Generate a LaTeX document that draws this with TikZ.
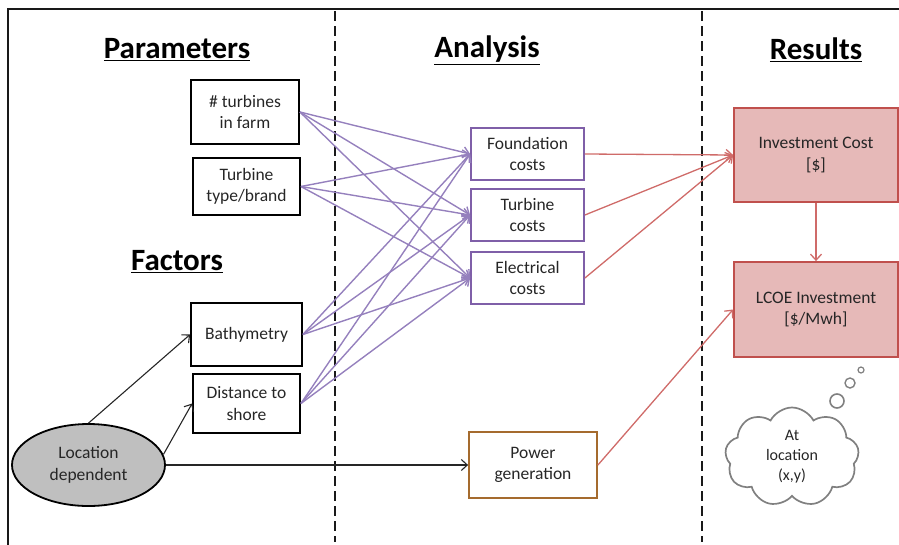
\documentclass[tikz,border=0pt]{standalone}
\usepackage{fontspec}
\setmainfont{Carlito}
\usetikzlibrary{arrows.meta,shapes.geometric,shapes.symbols}
\definecolor{purp}{HTML}{7F5FA8}
\definecolor{purpline}{HTML}{9580BD}
\definecolor{redb}{HTML}{C0504D}
\definecolor{redfill}{HTML}{E6B9B8}
\definecolor{redline}{HTML}{CF6B69}
\definecolor{brownb}{HTML}{A56B2E}
\definecolor{cloudgray}{HTML}{808080}
\definecolor{txt}{HTML}{262626}
\newcommand{\ulx}[1]{\underline{#1}}
\begin{document}
\begin{tikzpicture}[x=1pt,y=-1pt,
  every node/.style={text=txt,font=\fontsize{17.5}{21.5}\selectfont,align=center,inner sep=0pt},
  title/.style={font=\fontsize{31}{36}\selectfont\bfseries,text=black},
  blackbox/.style={draw=black,line width=1.8pt},
  purpbox/.style={draw=purp,line width=1.8pt},
  redbox/.style={draw=redb,fill=redfill,line width=1.8pt},
  brownbox/.style={draw=brownb,line width=1.8pt},
  purparrow/.style={draw=purpline,line width=1.4pt,-{Straight Barb[length=6pt,width=11pt]}},
  redarrow/.style={draw=redline,line width=1.3pt,-{Straight Barb[length=6pt,width=11pt]}},
  blackarrow/.style={draw=black!85,line width=1.1pt,-{Straight Barb[length=6pt,width=11pt]}},
  divider/.style={draw=black!90,line width=2.4pt,dash pattern=on 10pt off 5pt}
]
\useasboundingbox (0,0) rectangle (899,544);
% frame
\draw[line width=2pt,black!90] (8,560) -- (8,9) -- (910,9);
% dividers
\draw[divider] (335,11) -- (335,542);
\draw[divider] (702,11) -- (702,542);
% titles
\node[title] (tpar) at (177,50) {\ulx{Parameters}};
\node[title] (tana) at (487,50) {\ulx{Analysis}};
\node[title] (tres) at (816,50) {\ulx{Results}};
\node[title] (tfac) at (177,262) {\ulx{Factors}};
% left boxes
\node[blackbox,minimum width=108pt,minimum height=64pt] (nt) at (245,112) {\# turbines\\in farm};
\node[blackbox,minimum width=107pt,minimum height=57pt] (tt) at (246.5,186.5) {Turbine\\type/brand};
\node[blackbox,minimum width=111pt,minimum height=63pt] (ba) at (246.5,334.5) {Bathymetry};
\node[blackbox,minimum width=107pt,minimum height=59pt] (ds) at (246.5,403.5) {Distance to\\shore};
\node[ellipse,draw=black,fill=black!25,line width=1.8pt,minimum width=153pt,minimum height=82pt] (loc) at (88.5,465) {Location\\dependent};
% analysis boxes
\node[purpbox,minimum width=113pt,minimum height=52pt] (fc) at (527.5,154) {Foundation\\costs};
\node[purpbox,minimum width=113pt,minimum height=52pt] (tc) at (527.5,215) {Turbine\\costs};
\node[purpbox,minimum width=113pt,minimum height=52pt] (ec) at (527.5,278) {Electrical\\costs};
\node[brownbox,minimum width=128pt,minimum height=66pt] (pg) at (533,465) {Power\\generation};
% results
\node[redbox,minimum width=164pt,minimum height=94pt] (ic) at (816,155) {Investment Cost\\{}[\$]};
\node[redbox,minimum width=164pt,minimum height=95pt] (lc) at (816,309.5) {LCOE Investment\\{}[\$/Mwh]};
% cloud
\node[cloud,draw=cloudgray,line width=1.7pt,cloud puffs=9,cloud puff arc=125,aspect=1.3,minimum width=134pt,minimum height=99pt,font=\fontsize{16}{20}\selectfont] (cl) at (792,457) {At\\location\\(x,y)};
\node[circle,draw=cloudgray,line width=1.6pt,minimum size=14pt] (b1) at (837,401) {};
\node[circle,draw=cloudgray,line width=1.4pt,minimum size=10pt] (b2) at (850,383) {};
\node[circle,draw=cloudgray,line width=1.2pt,minimum size=6pt] (b3) at (861,370) {};
% purple connections
\foreach \s in {nt,tt,ba,ds}{
  \foreach \t in {fc,tc,ec}{
    \draw[purparrow] (\s.east) -- (\t.west);
  }
}
% red connections
\draw[redarrow] (fc.east) -- (ic.west);
\draw[redarrow] (tc.east) -- (ic.west);
\draw[redarrow] (ec.east) -- (ic.west);
\draw[redarrow] (ic.south) -- (lc.north);
\draw[redarrow] (pg.east) -- (lc.west);
% black connections
\draw[blackarrow] (loc.north) -- (ba.west);
\draw[blackarrow] (loc.8) -- (ds.west);
\draw[blackarrow] (loc.east) -- (pg.west);
\end{tikzpicture}
\end{document}
